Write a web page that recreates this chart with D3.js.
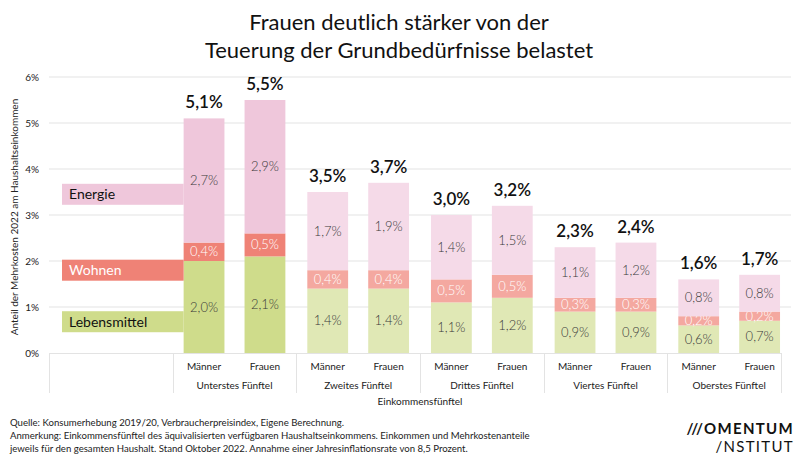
<!DOCTYPE html>
<html><head><meta charset="utf-8">
<script src="https://cdn.jsdelivr.net/npm/d3@7"></script>
<style>body{margin:0;background:#fff}svg{display:block;font-family:Lato,"Open Sans",sans-serif}</style>
</head><body><svg id="c" width="800" height="457"></svg>
<script>
const quintiles = ["Unterstes Fünftel","Zweites Fünftel","Drittes Fünftel","Viertes Fünftel","Oberstes Fünftel"];
const genders = ["Männer","Frauen"];
const categories = ["Lebensmittel","Wohnen","Energie"];
const lebensmittelM = [2.0,1.4,1.1,0.9,0.6];
const lebensmittelF = [2.1,1.4,1.2,0.9,0.7];
const wohnenM = [0.4,0.4,0.5,0.3,0.2];
const wohnenF = [0.5,0.4,0.5,0.3,0.2];
const energieM = [2.7,1.7,1.4,1.1,0.8];
const energieF = [2.9,1.9,1.5,1.2,0.8];
const totalM = [5.1,3.5,3.0,2.3,1.6];
const totalF = [5.5,3.7,3.2,2.4,1.7];
const yTicks = [0,1,2,3,4,5,6];
const legendAt = [0.68,1.8,3.45]; // legend label positions in % units

const colorsStrong = {Lebensmittel:"#cfdc8b", Wohnen:"#ef8276", Energie:"#efc7db"};
const colorsLight = {Lebensmittel:"#e0e8b5", Wohnen:"#f4a8a0", Energie:"#f5dae8"};

const svg = d3.select("#c");
const x0 = d3.scaleBand().domain(["", ...quintiles]).range([49,791]).padding(0);
const x1 = d3.scaleBand().domain(genders).range([0, x0.bandwidth()]).paddingInner(0.33).paddingOuter(0.18);
const y = d3.scaleLinear().domain([0,6]).range([353,77]);
const fmt = v => d3.format(".1f")(v).replace(".", ",") + "%";

// title
svg.append("text").attr("x",399).attr("y",30).attr("text-anchor","middle").attr("font-size",22).attr("fill","#111").text("Frauen deutlich stärker von der");
svg.append("text").attr("x",399).attr("y",58).attr("text-anchor","middle").attr("font-size",22).attr("fill","#111").text("Teuerung der Grundbedürfnisse belastet");

// grid
svg.append("g").selectAll("line").data(yTicks.filter(d=>d>0)).join("line")
  .attr("x1",49).attr("x2",791).attr("y1",d=>y(d)).attr("y2",d=>y(d))
  .attr("stroke","#e3e3e3").attr("stroke-width",1);
svg.append("g").selectAll("text").data(yTicks).join("text")
  .attr("x",39).attr("y",d=>y(d)+3.5).attr("text-anchor","end").attr("font-size",10).attr("fill","#222")
  .text(d=>d+"%");
svg.append("text").attr("transform","translate(18,217) rotate(-90)").attr("text-anchor","middle")
  .attr("font-size",10).attr("fill","#222").text("Anteil der Mehrkosten 2022 am Haushaltseinkommen");

// data rows
const rows = [];
quintiles.forEach((q,i)=>{
  [["Männer",lebensmittelM,wohnenM,energieM,totalM],["Frauen",lebensmittelF,wohnenF,energieF,totalF]].forEach(([g,l,w,e,t])=>{
    rows.push({q, g, i, Lebensmittel:l[i], Wohnen:w[i], Energie:e[i], total:t[i]});
  });
});
const stack = d3.stack().keys(categories)(rows);

const gBars = svg.append("g");
stack.forEach(layer=>{
  const key = layer.key;
  layer.forEach(d=>{
    const r = d.data;
    const bx = x0(r.q) + x1(r.g);
    const col = r.i===0 ? colorsStrong[key] : colorsLight[key];
    gBars.append("rect").attr("x",bx).attr("width",x1.bandwidth())
      .attr("y",y(d[1])).attr("height",y(d[0])-y(d[1])).attr("fill",col);
    gBars.append("text").attr("x",bx+x1.bandwidth()/2).attr("y",(y(d[0])+y(d[1]))/2+4.5)
      .attr("text-anchor","middle").attr("font-size",13).attr("font-weight",300)
      .attr("fill", key==="Wohnen" ? "#fff" : "#3a3a3a").text(fmt(r[key]));
  });
});
// totals
gBars.selectAll("text.tot").data(rows).join("text").attr("class","tot")
  .attr("x",d=>x0(d.q)+x1(d.g)+x1.bandwidth()/2).attr("y",d=>y(d.total)-10)
  .attr("text-anchor","middle").attr("font-size",17).attr("font-weight",600).attr("fill","#111")
  .text(d=>fmt(d.total));

// legend
const legTextColor = {Lebensmittel:"#111", Wohnen:"#fff", Energie:"#111"};
categories.forEach((c,k)=>{
  const cy = y(legendAt[k]);
  svg.append("rect").attr("x",62).attr("width",x0(quintiles[0])+x1("Männer")-62).attr("y",cy-10.5).attr("height",21).attr("fill",colorsStrong[c]);
  svg.append("text").attr("x",69).attr("y",cy+5).attr("font-size",14).attr("fill",legTextColor[c]).text(c);
});

// x axis
svg.append("line").attr("x1",49).attr("x2",781).attr("y1",353.5).attr("y2",353.5).attr("stroke","#e3e3e3");
const seps = ["", ...quintiles].map(q=>x0(q)).concat([781]);
svg.append("g").selectAll("line").data(seps).join("line")
  .attr("x1",d=>Math.round(d)+0.5).attr("x2",d=>Math.round(d)+0.5).attr("y1",353).attr("y2",393).attr("stroke","#e3e3e3");
quintiles.forEach(q=>{
  genders.forEach(g=>{
    svg.append("text").attr("x",x0(q)+x1(g)+x1.bandwidth()/2).attr("y",370).attr("text-anchor","middle")
      .attr("font-size",10).attr("fill","#222").text(g);
  });
  svg.append("text").attr("x",x0(q)+x0.bandwidth()/2).attr("y",389).attr("text-anchor","middle")
    .attr("font-size",10).attr("fill","#222").text(q);
});
svg.append("text").attr("x",420).attr("y",405).attr("text-anchor","middle").attr("font-size",10).attr("fill","#222").text("Einkommensfünftel");

// footer
const foot = ["Quelle: Konsumerhebung 2019/20, Verbraucherpreisindex, Eigene Berechnung.",
 "Anmerkung: Einkommensfünftel des äquivalisierten verfügbaren Haushaltseinkommens. Einkommen und Mehrkostenanteile",
 "jeweils für den gesamten Haushalt. Stand Oktober 2022. Annahme einer Jahresinflationsrate von 8,5 Prozent."];
foot.forEach((t,k)=>svg.append("text").attr("x",10).attr("y",426+k*13).attr("font-size",9.6).attr("fill","#222").text(t));

// logo
svg.append("text").attr("x",794).attr("y",434).attr("text-anchor","end").attr("font-size",15).attr("font-weight",700).attr("letter-spacing",1.3).attr("fill","#111").text("///OMENTUM");
svg.append("text").attr("x",794).attr("y",452).attr("text-anchor","end").attr("font-size",15).attr("letter-spacing",1.3).attr("fill","#111").text("/NSTITUT");
</script></body></html>
